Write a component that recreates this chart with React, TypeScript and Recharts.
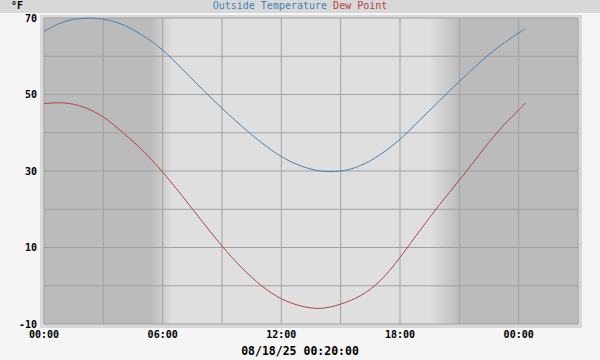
import React from 'react';
import { LineChart, Line, XAxis, YAxis, CartesianGrid } from 'recharts';

// hours since midnight 08/18/25
const hours = [0, 1, 2, 3, 4, 5, 6, 7, 8, 9, 10, 11, 12, 13, 14, 15, 16, 17, 18, 19, 20, 21, 22, 23, 24, 24.33];
const outsideTemp = [66.5, 69.0, 69.9, 69.7, 68.2, 65.4, 61.6, 56.6, 51.4, 46.4, 41.7, 37.4, 33.8, 31.3, 30.0, 30.0, 31.4, 34.3, 38.3, 43.3, 48.4, 53.4, 58.2, 62.5, 66.1, 67.2];
const dewPoint = [47.6, 47.8, 46.7, 44.1, 40.0, 35.3, 29.7, 23.4, 16.8, 10.4, 4.7, 0.0, -3.4, -5.3, -5.9, -4.8, -2.6, 1.3, 7.4, 14.4, 21.2, 27.6, 34.2, 40.6, 45.9, 47.8];

const xGridHours = [0, 3, 6, 9, 12, 15, 18, 21, 24, 27];
const xLabelHours = [0, 6, 12, 18, 24];
const xTickLabels = ['00:00', '06:00', '12:00', '18:00', '00:00'];
const yGridTicks = [-10, 0, 10, 20, 30, 40, 50, 60, 70];
const yTickLabels = [-10, 10, 30, 50, 70];

const data = hours.map((h, i) => ({ h, temp: outsideTemp[i], dew: dewPoint[i] }));

const MONO = '"DejaVu Sans Mono", monospace';
const BLUE = '#4282b4';
const RED = '#b44242';

const XTick = (props: any) => {
  const { x, y, payload } = props;
  const idx = xLabelHours.indexOf(payload.value);
  if (idx < 0) return null;
  return (
    <text x={x} y={y} textAnchor="middle" dominantBaseline="central" fontFamily={MONO} fontWeight="bold" fontSize={10} fill="#000">
      {xTickLabels[idx]}
    </text>
  );
};

const YTick = (props: any) => {
  const { x, y, payload } = props;
  if (!yTickLabels.includes(payload.value)) return null;
  return (
    <text x={x} y={y} textAnchor="end" dominantBaseline="central" fontFamily={MONO} fontWeight="bold" fontSize={10} fill="#000">
      {payload.value}
    </text>
  );
};

export default function App() {
  return (
    <div style={{ position: 'absolute', left: 0, top: 0, width: 600, height: 360, background: '#f5f5f5', overflow: 'hidden' }}>
      {/* top band */}
      <div style={{ position: 'absolute', left: 0, top: 0, width: 600, height: 13, background: '#d8d8d8' }} />
      <div style={{ position: 'absolute', left: 11, top: 0, height: 11, lineHeight: '11px', fontFamily: MONO, fontWeight: 'bold', fontSize: 10 }}>°F</div>
      <div style={{ position: 'absolute', left: 0, top: 0, width: 600, height: 11, lineHeight: '11px', textAlign: 'center', fontFamily: MONO, fontSize: 10, whiteSpace: 'pre' }}>
        <span style={{ color: BLUE }}>Outside Temperature</span> <span style={{ color: RED }}>Dew Point</span>
      </div>
      {/* frame behind plot */}
      <div style={{ position: 'absolute', left: 40, top: 15, width: 542, height: 313, background: '#d8d8d8' }} />
      <div style={{ position: 'absolute', left: 0, top: 0 }}>
        <LineChart width={600} height={360} data={data} margin={{ top: 18, right: 22, left: 0, bottom: 20 }}>
          <defs>
            <linearGradient id="dayNight" x1="0" y1="0" x2="1" y2="0">
              <stop offset={0} stopColor="#bbbbbb" />
              <stop offset={5.4 / 27} stopColor="#bbbbbb" />
              <stop offset={6.5 / 27} stopColor="#dfdfdf" />
              <stop offset={19.5 / 27} stopColor="#dfdfdf" />
              <stop offset={21.05 / 27} stopColor="#bbbbbb" />
              <stop offset={1} stopColor="#bbbbbb" />
            </linearGradient>
          </defs>
          <CartesianGrid stroke="#a0a0a0" fill="url(#dayNight)" fillOpacity={1} />
          <XAxis
            dataKey="h"
            type="number"
            domain={[0, 27]}
            ticks={xGridHours}
            interval={0}
            height={16}
            axisLine={false}
            tickLine={false}
            tickSize={0}
            tickMargin={10}
            tick={<XTick />}
          />
          <YAxis
            type="number"
            domain={[-10, 70]}
            ticks={yGridTicks}
            interval={0}
            width={44}
            axisLine={false}
            tickLine={false}
            tickSize={0}
            tickMargin={7}
            tick={<YTick />}
          />
          <Line type="natural" dataKey="temp" stroke={BLUE} strokeWidth={1} dot={false} isAnimationActive={false} />
          <Line type="natural" dataKey="dew" stroke={RED} strokeWidth={1} dot={false} isAnimationActive={false} />
        </LineChart>
      </div>
      <div style={{ position: 'absolute', left: 0, top: 344, width: 600, textAlign: 'center', fontFamily: MONO, fontWeight: 'bold', fontSize: 11.5, lineHeight: '14px' }}>
        08/18/25 00:20:00
      </div>
    </div>
  );
}
